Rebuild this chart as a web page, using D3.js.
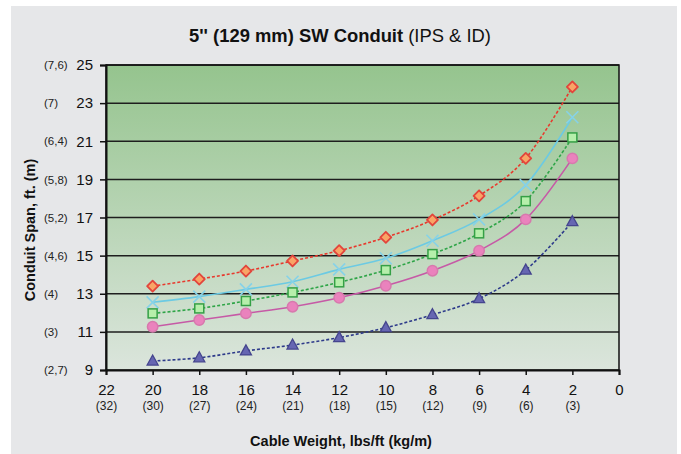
<!DOCTYPE html>
<html><head><meta charset="utf-8">
<script src="https://cdn.jsdelivr.net/npm/d3@7"></script>
<style>body{margin:0;background:#fff;font-family:"Liberation Sans",Arial,sans-serif}</style>
</head><body>
<svg id="c" width="681" height="454"></svg>
<script>
const weights = [20, 18, 16, 14, 12, 10, 8, 6, 4, 2];
const seriesRed   = [13.4, 13.77, 14.19, 14.72, 15.26, 15.96, 16.87, 18.14, 20.1, 23.85];
const seriesCyan  = [12.55, 12.85, 13.23, 13.63, 14.28, 14.86, 15.78, 16.9, 18.7, 22.26];
const seriesGreen = [11.97, 12.23, 12.62, 13.07, 13.6, 14.24, 15.08, 16.17, 17.86, 21.2];
const seriesPink  = [11.27, 11.62, 11.97, 12.32, 12.79, 13.42, 14.21, 15.26, 16.9, 20.1];
const seriesBlue  = [9.47, 9.64, 10.0, 10.31, 10.7, 11.22, 11.9, 12.74, 14.24, 16.78];
const yTicks = [9, 11, 13, 15, 17, 19, 21, 23, 25];
const yTickMetric = ["(2,7)", "(3)", "(4)", "(4,6)", "(5,2)", "(5,8)", "(6,4)", "(7)", "(7,6)"];
const xTicks = [22, 20, 18, 16, 14, 12, 10, 8, 6, 4, 2, 0];
const xTickMetric = ["(32)", "(30)", "(27)", "(24)", "(21)", "(18)", "(15)", "(12)", "(9)", "(6)", "(3)", ""];

const FONT = "Liberation Sans, Arial, sans-serif";
const svg = d3.select("#c");
const L = 106, R = 619, T = 65, B = 370;
const x = d3.scaleLinear().domain([22, 0]).range([L, R]);
const y = d3.scaleLinear().domain([9, 25]).range([B, T]);

svg.append("rect").attr("x", 11).attr("y", 6).attr("width", 666).attr("height", 448).attr("fill", "#e6e7e9");

const defs = svg.append("defs");
const g = defs.append("linearGradient").attr("id", "bg").attr("x1", 0).attr("y1", 0).attr("x2", 0).attr("y2", 1);
g.append("stop").attr("offset", "0%").attr("stop-color", "#95c48e");
g.append("stop").attr("offset", "100%").attr("stop-color", "#dbe5dc");
svg.append("rect").attr("x", L).attr("y", T).attr("width", R - L).attr("height", B - T).attr("fill", "url(#bg)");

// gridlines
svg.append("g").selectAll("line").data(yTicks.slice(1)).join("line")
  .attr("x1", L).attr("x2", R).attr("y1", d => y(d)).attr("y2", d => y(d))
  .attr("stroke", "#1e1e1e").attr("stroke-width", 1.5);

// border
svg.append("rect").attr("x", L).attr("y", T).attr("width", R - L).attr("height", B - T)
  .attr("fill", "none").attr("stroke", "#111").attr("stroke-width", 1.5);

// axes
const yAxis = svg.append("g").attr("transform", `translate(${L},0)`)
  .call(d3.axisLeft(y).tickValues(yTicks).tickSize(6).tickFormat(d3.format("d")));
yAxis.select(".domain").attr("stroke", "#111").attr("stroke-width", 2);
yAxis.selectAll(".tick line").attr("stroke", "#111").attr("stroke-width", 1.5);
yAxis.selectAll(".tick text").attr("font-size", 15).attr("fill", "#111").attr("x", -13)
  .attr("font-family", FONT);
yAxis.selectAll(".tick").append("text").text((d, i) => yTickMetric[i])
  .attr("x", 44 - L).attr("dy", "0.32em").attr("text-anchor", "start")
  .attr("font-size", 11.5).attr("fill", "#222").attr("font-family", FONT);

const xAxis = svg.append("g").attr("transform", `translate(0,${B})`)
  .call(d3.axisBottom(x).tickValues(xTicks).tickSize(5).tickFormat(d3.format("d")));
xAxis.select(".domain").attr("stroke", "#111").attr("stroke-width", 2);
xAxis.selectAll(".tick line").attr("stroke", "#111").attr("stroke-width", 1.5);
xAxis.selectAll(".tick text").attr("font-size", 15).attr("fill", "#111").attr("y", 14)
  .attr("font-family", FONT);
xAxis.selectAll(".tick").append("text").text((d, i) => xTickMetric[i])
  .attr("y", 40).attr("text-anchor", "middle")
  .attr("font-size", 12).attr("fill", "#222").attr("font-family", FONT);

// series
const series = [
  {vals: seriesRed,   line: "#e8392d", dash: "3,2", shape: "diamond"},
  {vals: seriesCyan,  line: "#6ccae3", dash: null,  shape: "x"},
  {vals: seriesGreen, line: "#2fa548", dash: "3,2", shape: "square"},
  {vals: seriesPink,  line: "#c65aa6", dash: null,  shape: "circle"},
  {vals: seriesBlue,  line: "#2d3a8a", dash: "3,2", shape: "triangle"}
];
const lineGen = d3.line().x(d => x(d[0])).y(d => y(d[1])).curve(d3.curveCatmullRom.alpha(0));
series.forEach(s => {
  const pts = weights.map((w, i) => [w, s.vals[i]]);
  svg.append("path").attr("d", lineGen(pts)).attr("fill", "none")
    .attr("stroke", s.line).attr("stroke-width", 1.6).attr("stroke-dasharray", s.dash);
});
series.forEach(s => {
  const pts = weights.map((w, i) => [w, s.vals[i]]);
  const mg = svg.append("g").selectAll("g").data(pts).join("g")
    .attr("transform", d => `translate(${x(d[0])},${y(d[1])})`);
  if (s.shape === "diamond") {
    mg.append("path").attr("d", "M0,-5.5L5.5,0L0,5.5L-5.5,0Z")
      .attr("fill", "#f9a466").attr("stroke", "#e2453c").attr("stroke-width", 1.8)
      .attr("stroke-linejoin", "round");
  } else if (s.shape === "x") {
    mg.append("path").attr("d", "M-6,-6L6,6M-6,6L6,-6")
      .attr("stroke", "#86d2e8").attr("stroke-width", 1.6).attr("fill", "none");
  } else if (s.shape === "square") {
    mg.append("rect").attr("x", -4.5).attr("y", -4.5).attr("width", 9).attr("height", 9)
      .attr("fill", "#b6efab").attr("stroke", "#35a046").attr("stroke-width", 1.5);
  } else if (s.shape === "circle") {
    mg.append("circle").attr("r", 5.2)
      .attr("fill", "#ea82bd").attr("stroke", "#d779ad").attr("stroke-width", 1.5);
  } else {
    mg.append("path").attr("d", "M0,-6L5.5,4L-5.5,4Z")
      .attr("fill", "#6666b2").attr("stroke", "#45458e").attr("stroke-width", 1.3);
  }
});

// titles
const title = svg.append("text").attr("x", 340).attr("y", 42).attr("text-anchor", "middle")
  .attr("font-size", 18.4).attr("fill", "#111").attr("font-family", FONT);
title.append("tspan").attr("font-weight", "bold").text("5'' (129 mm) SW Conduit ");
title.append("tspan").text("(IPS & ID)");

svg.append("text").attr("transform", "translate(35,230) rotate(-90)").attr("text-anchor", "middle")
  .attr("font-size", 14.5).attr("font-weight", "bold").attr("fill", "#111")
  .attr("font-family", FONT).text("Conduit Span, ft. (m)");
svg.append("text").attr("x", 341).attr("y", 446).attr("text-anchor", "middle")
  .attr("font-size", 14.5).attr("font-weight", "bold").attr("fill", "#111")
  .attr("font-family", FONT).text("Cable Weight, lbs/ft (kg/m)");
</script>
</body></html>
